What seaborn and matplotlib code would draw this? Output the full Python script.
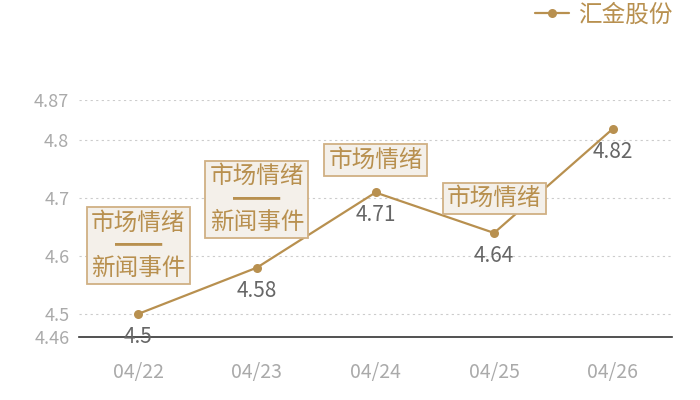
import pandas as pd
import matplotlib
matplotlib.use("Agg")
import matplotlib.pyplot as plt
import seaborn as sns

# 数据
dates = ["04/22", "04/23", "04/24", "04/25", "04/26"]
prices = [4.5, 4.58, 4.71, 4.64, 4.82]
notes = ["市场情绪\n━━\n新闻事件", "市场情绪\n━━\n新闻事件", "市场情绪", "市场情绪", None]
note_offsets = [34, 34, 21, 23, 0]  # 注释框距离点的像素
yticks = [4.46, 4.5, 4.6, 4.7, 4.8, 4.87]
ytick_labels = ["4.46", "4.5", "4.6", "4.7", "4.8", "4.87"]

gold = "#b8904f"
df = pd.DataFrame({"date": dates, "price": prices})

sns.set_style("white")
plt.rcParams["font.family"] = ["Noto Sans CJK SC", "DejaVu Sans"]

fig = plt.figure(figsize=(7, 4), dpi=100)
ax = fig.add_axes([79 / 700, 1 - 337 / 400, 593 / 700, 237 / 400])

sns.lineplot(data=df, x="date", y="price", ax=ax, color=gold, linewidth=1.6,
             marker="o", markersize=6.5, markeredgewidth=0, label="汇金股份",
             sort=False)

ax.set_xlim(-0.5, 4.5)
ax.set_ylim(4.46, 4.87)
ax.set_yticks(yticks)
ax.set_yticklabels(ytick_labels)
ax.set_xlabel("")
ax.set_ylabel("")
ax.tick_params(axis="y", length=0, labelsize=13, labelcolor="#aaaaaa", pad=7)
ax.tick_params(axis="x", length=0, labelsize=14, labelcolor="#aaaaaa", pad=18)

for v in yticks[1:]:
    ax.axhline(v, color="#cccccc", linewidth=0.8, linestyle=(0, (2, 3)), zorder=0)

for s in ["top", "right", "left"]:
    ax.spines[s].set_visible(False)
ax.spines["bottom"].set_color("#333333")
ax.spines["bottom"].set_linewidth(1.2)

# 数值标签
for i, p in enumerate(prices):
    ax.annotate(f"{p:g}", (i, p), xytext=(0, -23), textcoords="offset pixels",
                ha="center", va="center", fontsize=15, color="#666666")

# 注释框
for i, (p, n) in enumerate(zip(prices, notes)):
    if n is None:
        continue
    ax.annotate(n, (i, p), xytext=(0, note_offsets[i]), textcoords="offset pixels",
                ha="center", va="bottom", fontsize=17, color=gold,
                linespacing=0.98,
                bbox=dict(boxstyle="square,pad=0.18", fc="#f4f0ea", ec="#d0b084", lw=1.3))

leg = ax.legend(loc="upper right", bbox_to_anchor=(676 / 700, 1.0), bbox_transform=fig.transFigure,
                frameon=False, fontsize=17, handlelength=1.4, handletextpad=0.4,
                borderaxespad=0.05, borderpad=0.1)
for t in leg.get_texts():
    t.set_color(gold)

fig.savefig("out.png", dpi=100)
